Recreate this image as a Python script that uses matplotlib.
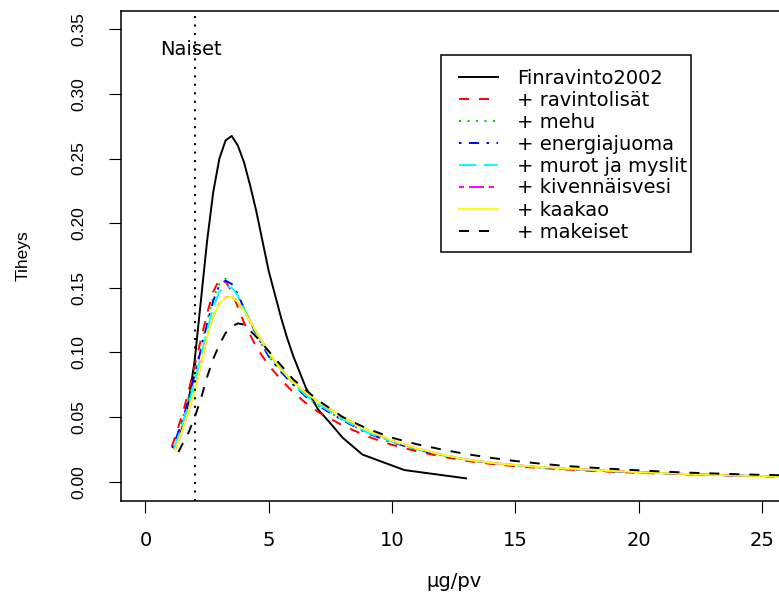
import matplotlib
matplotlib.use("Agg")
import matplotlib.pyplot as plt
from matplotlib.lines import Line2D
from matplotlib.patches import Rectangle

plt.rcParams['font.family'] = ['Liberation Sans', 'DejaVu Sans']
plt.rcParams['font.size'] = 12
plt.rcParams['lines.scale_dashes'] = False

# the reference is stretched sideways, so horizontal text uses a wider face
WIDE = ['DejaVu Sans']
WIDE_SIZE = 14

# density curves (x = ug/pv, y = density)
grid = [1.5, 1.75, 2.0, 2.25, 2.5, 2.75, 3.0, 3.25, 3.5, 3.75, 4.0, 4.5, 5.0, 5.5,
        6.0, 6.5, 7.0, 8.0, 9.0, 10, 11, 12, 13, 14, 15, 16, 17, 18, 19, 20, 21,
        22, 23, 24, 25, 26]

fin_x = [1.25, 1.5, 1.75, 2.0, 2.25, 2.5, 2.75, 3.0, 3.25, 3.5, 3.75, 4.0, 4.25, 4.5,
         4.75, 5.0, 5.25, 5.5, 5.75, 6.0, 6.5, 7.0, 7.6, 8.0, 8.8, 10.5, 13.0]
fin_y = [0.028, 0.042, 0.062, 0.094, 0.140, 0.186, 0.224, 0.250, 0.264, 0.2675, 0.260,
         0.247, 0.229, 0.209, 0.186, 0.163, 0.145, 0.127, 0.111, 0.097, 0.073, 0.056,
         0.043, 0.034, 0.021, 0.009, 0.0026]

start = {
    'ravintolisat': (1.07, 0.027),
    'mehu': (1.1, 0.026),
    'energiajuoma': (1.1, 0.026),
    'murot': (1.15, 0.025),
    'kivennaisvesi': (1.2, 0.0245),
    'kaakao': (1.2, 0.0245),
    'makeiset': (1.34, 0.023),
}

ravintolisat = [0.052, 0.070, 0.090, 0.110, 0.130, 0.147, 0.1565, 0.155, 0.147, 0.135,
                0.123, 0.104, 0.090, 0.079, 0.069, 0.061, 0.054, 0.0435, 0.035, 0.0285,
                0.0235, 0.0195, 0.0162, 0.0138, 0.0120, 0.0106, 0.0095, 0.0085, 0.0076,
                0.0069, 0.0062, 0.0056, 0.0051, 0.0046, 0.0042, 0.0038]
mehu = [0.048, 0.065, 0.084, 0.104, 0.124, 0.142, 0.153, 0.157, 0.153, 0.144, 0.133,
        0.113, 0.097, 0.085, 0.075, 0.066, 0.059, 0.0475, 0.0375, 0.0305, 0.025, 0.0205,
        0.0170, 0.0145, 0.0126, 0.0111, 0.0099, 0.0089, 0.0080, 0.0072, 0.0065, 0.0059,
        0.0053, 0.0048, 0.0044, 0.0040]
energiajuoma = [0.047, 0.064, 0.083, 0.102, 0.122, 0.140, 0.152, 0.1555, 0.153, 0.145,
                0.134, 0.114, 0.097, 0.085, 0.075, 0.066, 0.059, 0.0475, 0.0375, 0.0305,
                0.025, 0.0205, 0.0170, 0.0145, 0.0126, 0.0111, 0.0099, 0.0089, 0.0080,
                0.0072, 0.0065, 0.0059, 0.0053, 0.0048, 0.0044, 0.0040]
murot = [0.044, 0.060, 0.078, 0.097, 0.117, 0.135, 0.147, 0.1515, 0.150, 0.144, 0.134,
         0.115, 0.099, 0.087, 0.076, 0.067, 0.060, 0.0482, 0.038, 0.031, 0.0253, 0.0208,
         0.0172, 0.0146, 0.0127, 0.0112, 0.0100, 0.0090, 0.0081, 0.0073, 0.0066, 0.0059,
         0.0053, 0.0048, 0.0044, 0.0040]
kivennaisvesi = [0.040, 0.055, 0.071, 0.091, 0.112, 0.128, 0.138, 0.1425, 0.143, 0.139,
                 0.132, 0.116, 0.100, 0.087, 0.077, 0.069, 0.062, 0.050, 0.040, 0.0318,
                 0.0258, 0.0210, 0.0172, 0.0147, 0.0128, 0.0114, 0.0103, 0.0093, 0.0083,
                 0.0074, 0.0066, 0.0059, 0.0053, 0.0048, 0.0043, 0.0039]
kaakao = [0.040, 0.055, 0.070, 0.091, 0.112, 0.128, 0.138, 0.1425, 0.143, 0.139, 0.132,
          0.116, 0.100, 0.087, 0.077, 0.069, 0.062, 0.050, 0.040, 0.0318, 0.0258, 0.0210,
          0.0172, 0.0147, 0.0128, 0.0114, 0.0103, 0.0093, 0.0083, 0.0074, 0.0066, 0.0059,
          0.0053, 0.0048, 0.0043, 0.0039]
makeiset = [0.029, 0.038, 0.050, 0.064, 0.081, 0.095, 0.106, 0.115, 0.120, 0.1225,
            0.1215, 0.112, 0.101, 0.090, 0.079, 0.071, 0.063, 0.050, 0.041, 0.034,
            0.0290, 0.0250, 0.0214, 0.0185, 0.0160, 0.0140, 0.0122, 0.0110, 0.0098,
            0.0088, 0.0078, 0.0070, 0.0064, 0.0058, 0.0053, 0.0049]

labels = ['Finravinto2002', '+ ravintolisät', '+ mehu', '+ energiajuoma',
          '+ murot ja myslit', '+ kivennäisvesi', '+ kaakao', '+ makeiset']

# R line types, unit ~1.8pt (dots a bit tighter)
U = 1.8
def lty(pat):
    return (0, tuple(int(c) * U for c in pat))

DOTS = (0, (1.5, 4.6))

styles = [
    ('black', '-'),
    ('#FF0000', lty('44')),
    ('#00CD00', DOTS),
    ('#0000FF', lty('1343')),
    ('#00FFFF', lty('73')),
    ('#FF00FF', lty('2262')),
    ('#FFFF00', '-'),
    ('black', lty('44')),
]

series = [ravintolisat, mehu, energiajuoma, murot, kivennaisvesi, kaakao, makeiset]
keys = ['ravintolisat', 'mehu', 'energiajuoma', 'murot', 'kivennaisvesi', 'kaakao', 'makeiset']

W, H = 779, 601
fig = plt.figure(figsize=(W / 100, H / 100), dpi=100)
ax = fig.add_axes([0.155, 0.1669, 0.8547, 0.8153])

LW = 1.4
ax.plot(fin_x, fin_y, color=styles[0][0], linestyle=styles[0][1], lw=LW)
for i, (k, ys) in enumerate(zip(keys, series)):
    x0, y0 = start[k]
    col, ls = styles[i + 1]
    ax.plot([x0] + grid, [y0] + ys, color=col, linestyle=ls, lw=LW)

ax.axvline(2, color='black', linestyle=DOTS, lw=1.4)
ax.text(1.85, 0.334, 'Naiset', ha='center', va='center',
        family=WIDE, fontsize=WIDE_SIZE)

ax.set_xlim(-1, 26)
ax.set_ylim(-0.0147, 0.3644)
ax.set_xticks([0, 5, 10, 15, 20, 25])
ax.set_xticklabels(['0', '5', '10', '15', '20', '25'], family=WIDE, fontsize=WIDE_SIZE)
ax.set_yticks([0, 0.05, 0.10, 0.15, 0.20, 0.25, 0.30, 0.35])
ax.set_yticklabels(['%.2f' % v for v in ax.get_yticks()], rotation=90, va='center',
                   fontsize=12.5)
ax.tick_params(axis='both', direction='out', length=8.6, width=0.8)
ax.tick_params(axis='x', pad=13)
ax.tick_params(axis='y', pad=16)
for s in ax.spines.values():
    s.set_linewidth(1.1)

ax.set_xlabel('µg/pv', family=WIDE, fontsize=WIDE_SIZE, va='center')
ax.xaxis.set_label_coords(0.5, -0.164)
ax.set_ylabel('Tiheys', fontsize=12.5, va='center')
ax.yaxis.set_label_coords(-0.146, 0.5)

# legend box, drawn in figure pixels (origin top-left)
def fx(px):
    return px / W

def fy(py):
    return 1 - py / H

box = Rectangle((fx(440.7), fy(251.7)), fx(690.7) - fx(440.7), fy(55) - fy(251.7),
                transform=fig.transFigure, facecolor='white', edgecolor='black',
                lw=1.1, zorder=5)
fig.add_artist(box)
for k, (lab, (col, ls)) in enumerate(zip(labels, styles)):
    yc = 76.7 + 22 * k
    fig.add_artist(Line2D([fx(459), fx(498)], [fy(yc), fy(yc)], transform=fig.transFigure,
                          color=col, linestyle=ls, lw=LW, zorder=6))
    fig.text(fx(516.7), fy(yc + 6.8), lab, ha='left', va='baseline',
             family=WIDE, fontsize=WIDE_SIZE, zorder=6)

fig.savefig('out.png', dpi=100)
